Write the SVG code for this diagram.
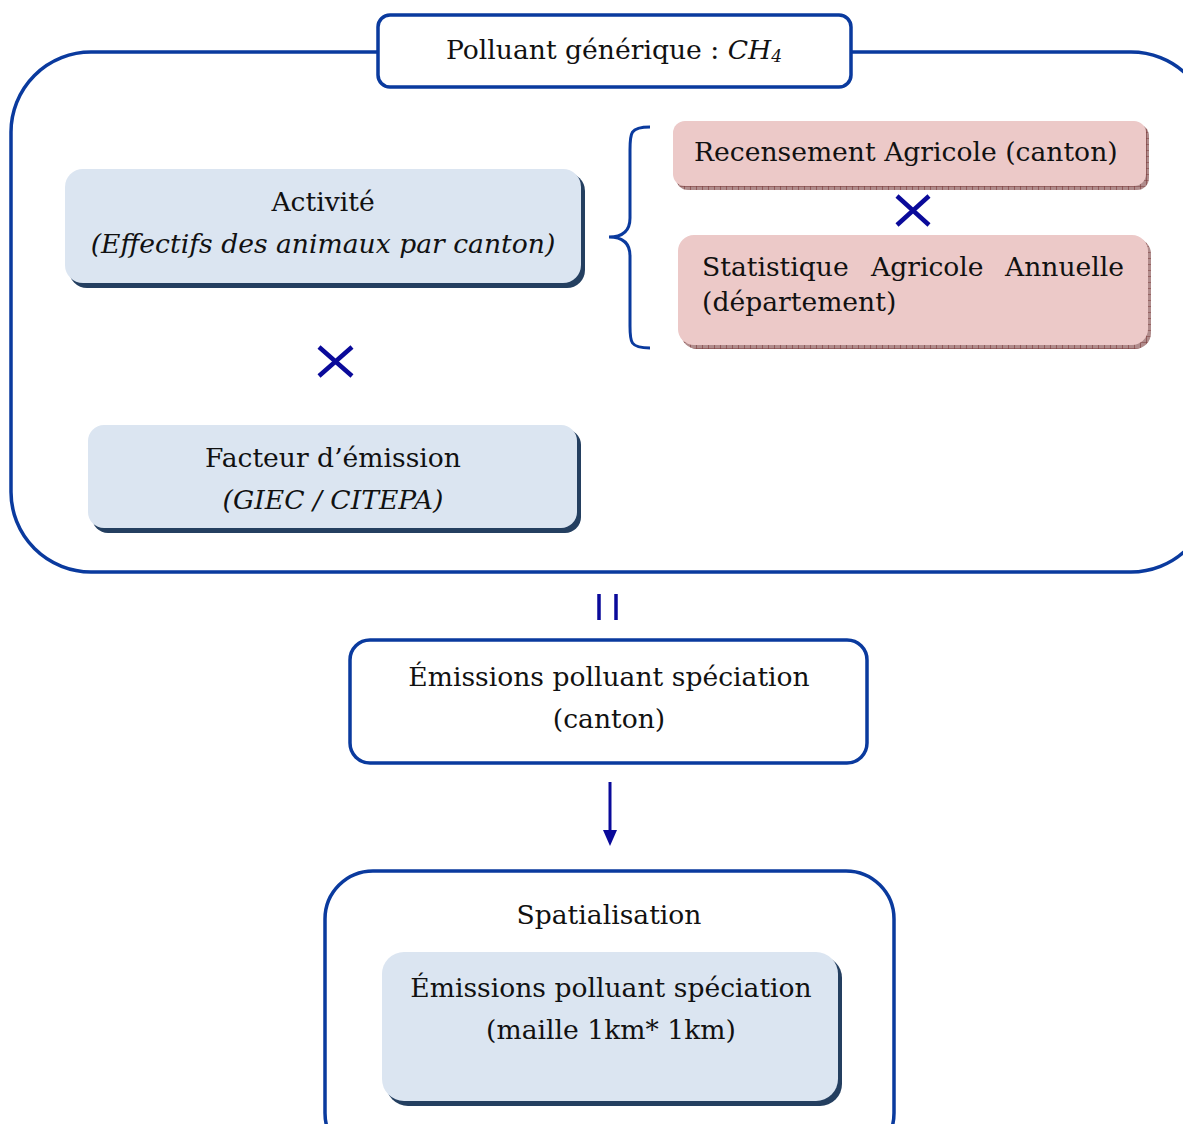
<svg xmlns="http://www.w3.org/2000/svg" width="1183" height="1124" viewBox="0 0 1183 1124">
<defs>
<style>
text{font-family:"DejaVu Serif","Liberation Serif",serif;font-size:26.6px;fill:#111}
.it{font-style:italic}
.frame{fill:#fff;stroke:#0a3a9e;stroke-width:3.5}
.blue{fill:#dbe5f1}
.shadow{fill:#243f60}
.pink{fill:#ecc9c8}
.x{stroke:#0a0a9a;stroke-width:4.5;fill:none}
</style>
<pattern id="hatch" width="6" height="6" patternUnits="userSpaceOnUse">
<rect width="6" height="6" fill="#b08c8c"/>
<path d="M0 0H6M0 0V6" stroke="#7a3a3a" stroke-width="1.2"/>
</pattern>
</defs>

<g id="outer-frame">
<rect class="frame" x="11" y="52" width="1200" height="520" rx="80"/>
</g>

<g id="title">
<rect class="frame" x="378" y="15" width="473" height="72" rx="12"/>
<text x="446" y="59">Polluant générique : <tspan class="it">CH</tspan><tspan class="it" font-size="17" dy="3">4</tspan></text>
</g>

<g id="activite">
<rect class="shadow" x="69" y="173" width="516" height="115" rx="18"/>
<rect class="blue" x="65" y="169" width="516" height="114" rx="18"/>
<text x="323" y="211" text-anchor="middle">Activité</text>
<text x="323" y="253" text-anchor="middle" class="it">(Effectifs des animaux par canton)</text>
</g>

<g id="facteur">
<rect class="shadow" x="92" y="429" width="489" height="104" rx="16"/>
<rect class="blue" x="88" y="425" width="489" height="103" rx="16"/>
<text x="333" y="467" text-anchor="middle">Facteur d’émission</text>
<text x="333" y="509" text-anchor="middle" class="it">(GIEC / CITEPA)</text>
</g>

<g id="recensement">
<rect fill="url(#hatch)" x="676" y="124" width="473" height="66" rx="12"/>
<rect class="pink" x="673" y="121" width="473" height="65" rx="12"/>
<text x="694" y="161">Recensement Agricole (canton)</text>
</g>

<g id="statistique">
<rect fill="url(#hatch)" x="681" y="238" width="470" height="111" rx="16"/>
<rect class="pink" x="678" y="235" width="470" height="110" rx="16"/>
<text x="702" y="276">Statistique</text>
<text x="871" y="276">Agricole</text>
<text x="1124" y="276" text-anchor="end">Annuelle</text>
<text x="702" y="311">(département)</text>
</g>

<g id="emissions-canton">
<rect class="frame" x="350" y="640" width="517" height="123" rx="20"/>
<text x="609" y="686" text-anchor="middle">Émissions polluant spéciation</text>
<text x="609" y="728" text-anchor="middle">(canton)</text>
</g>

<g id="spatialisation">
<rect class="frame" x="325" y="871" width="569" height="290" rx="48"/>
<text x="609" y="924" text-anchor="middle">Spatialisation</text>
</g>

<g id="emissions-maille">
<rect class="shadow" x="386" y="956" width="456" height="150" rx="22"/>
<rect class="blue" x="382" y="952" width="456" height="149" rx="22"/>
<text x="611" y="997" text-anchor="middle">Émissions polluant spéciation</text>
<text x="611" y="1039" text-anchor="middle">(maille 1km* 1km)</text>
</g>

<g id="connectors">
<path d="M650 127C630 127 630 133 630 150V218C630 232 622 237 609 237C622 237 630 242 630 256V326C630 342 630 348 650 348" fill="none" stroke="#0a3a9e" stroke-width="3"/>
<path class="x" d="M319 347L352 376M352 347L319 376"/>
<path class="x" d="M897 196L929 225M929 196L897 225"/>
<path d="M599 594V620M616 594V620" stroke="#0a0a9a" stroke-width="3.5"/>
<path d="M610 782V832" stroke="#0a0a9a" stroke-width="3"/>
<path d="M603 830L617 830L610 846Z" fill="#0a0a9a"/>
</g>
</svg>
